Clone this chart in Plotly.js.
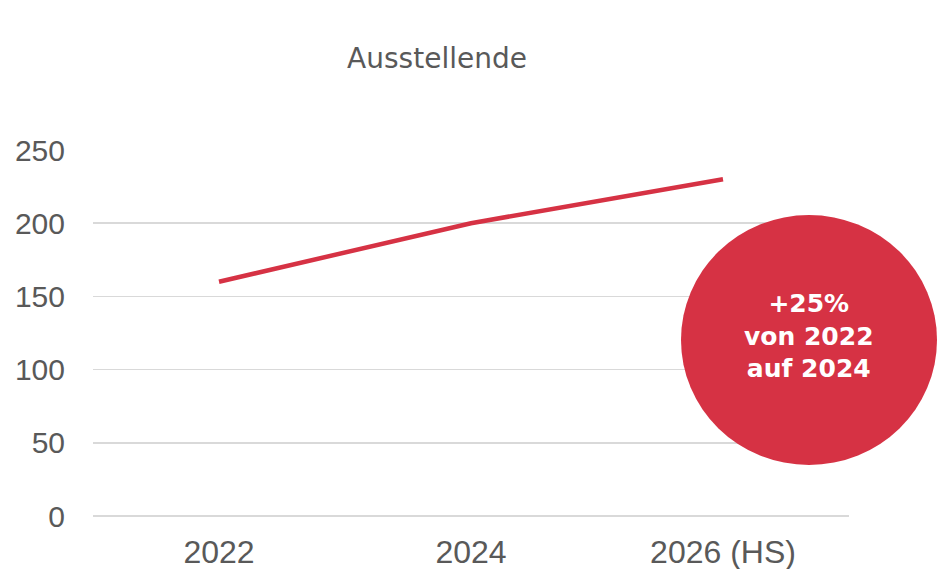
<!DOCTYPE html>
<html>
<head>
<meta charset="utf-8">
<script src="https://cdn.plot.ly/plotly-3.0.1.min.js"></script>
<style>html,body{margin:0;padding:0;background:#fff;}#chart{width:938px;height:569px;}</style>
</head>
<body>
<div id="chart"></div>
<script>
const categories = ["2022", "2024", "2026 (HS)"];
const exhibitors = [160, 200, 230];
const yTicks = [0, 50, 100, 150, 200, 250];
const chartTitle = "Ausstellende";
const badgeText = "+25%<br>von 2022<br>auf 2024";

const trace = {
  x: categories,
  y: exhibitors,
  type: "scatter",
  mode: "lines",
  line: {color: "#D63244", width: 4.5},
  hoverinfo: "skip"
};

const layout = {
  width: 938, height: 569,
  margin: {l: 93, r: 89, t: 150, b: 53},
  paper_bgcolor: "#fff", plot_bgcolor: "#fff",
  showlegend: false,
  title: {
    text: chartTitle,
    x: 437/938, xref: "container", xanchor: "center",
    y: 1 - 58/569, yref: "container", yanchor: "middle",
    font: {family: "'DejaVu Sans', sans-serif", size: 28, color: "#595959"}
  },
  xaxis: {
    type: "category",
    range: [-0.5, 2.5],
    showgrid: false, zeroline: false, showline: false,
    ticks: "",
    ticklabelstandoff: 14,
    tickfont: {family: "'Liberation Sans Narrow', 'Liberation Sans', Arial, sans-serif", size: 32, color: "#595959"}
  },
  yaxis: {
    range: [0, 250],
    tickvals: yTicks,
    showgrid: true, gridcolor: "#d9d9d9", gridwidth: 1.5,
    zeroline: true, zerolinecolor: "#d9d9d9", zerolinewidth: 1.5,
    showline: false, ticks: "",
    ticklabelstandoff: 27,
    tickfont: {family: "'Liberation Sans', Arial, sans-serif", size: 30, color: "#595959"}
  },
  shapes: [{
    type: "circle", layer: "above",
    xref: "paper", yref: "paper",
    xsizemode: "pixel", ysizemode: "pixel",
    xanchor: (809-93)/756, yanchor: (516-340)/366,
    x0: -128, x1: 128, y0: -125, y1: 125,
    fillcolor: "#D63244", line: {width: 0}
  }],
  annotations: [{
    xref: "paper", yref: "paper",
    x: (809-93)/756, y: (516-336)/366,
    xanchor: "center", yanchor: "middle",
    text: "<b>" + badgeText + "</b>",
    showarrow: false,
    align: "center",
    font: {family: "'DejaVu Sans', sans-serif", size: 25, color: "#ffffff"}
  }]
};

Plotly.newPlot("chart", [trace], layout, {staticPlot: true, displayModeBar: false});
</script>
</body>
</html>
